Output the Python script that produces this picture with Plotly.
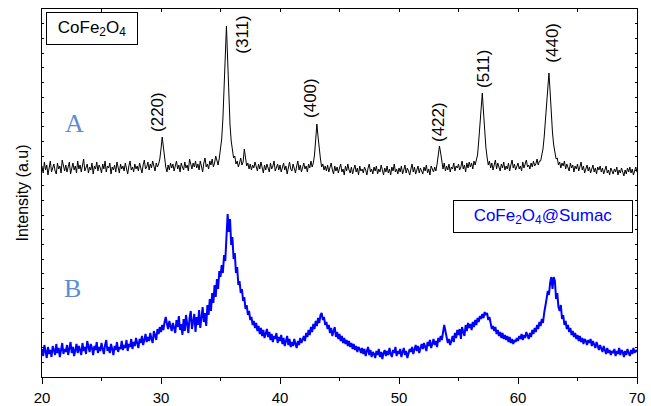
import numpy as np
import plotly.graph_objects as go

# 2-theta sampling grid (degrees), 0.1 deg step
two_theta = np.round(np.arange(200, 701, 1) / 10.0, 1)

# Trace A: CoFe2O4 (intensity, a.u.), one row per degree
int_a = [
    211, 204, 215, 207, 212, 202, 209, 216, 205, 210,  # 20
    213, 206, 203, 214, 208, 211, 204, 217, 209, 206,  # 21
    212, 205, 210, 215, 203, 209, 214, 207, 211, 204,  # 22
    216, 208, 212, 205, 210, 218, 206, 209, 213, 204,  # 23
    210, 207, 214, 203, 211, 208, 215, 206, 212, 209,  # 24
    204, 213, 208, 216, 205, 211, 209, 214, 203, 210,  # 25
    207, 212, 205, 215, 209, 204, 213, 208, 211, 206,  # 26
    214, 209, 203, 211, 216, 207, 210, 205, 213, 208,  # 27
    211, 206, 214, 209, 204, 212, 217, 208, 210, 215,  # 28
    207, 213, 209, 216, 211, 206, 214, 210, 213, 218,  # 29
    228, 240, 230, 218, 210, 205, 212, 207, 214, 209,  # 30
    213, 206, 211, 216, 208, 212, 205, 214, 210, 207,  # 31
    215, 209, 212, 206, 218, 211, 208, 214, 210, 216,  # 32
    209, 213, 207, 216, 211, 205, 214, 219, 210, 213,  # 33
    208, 216, 212, 218, 210, 214, 221, 215, 212, 219,  # 34
    228, 238, 258, 290, 330, 351, 318, 280, 252, 236,  # 35
    226, 219, 221, 213, 216, 210, 214, 219, 212, 215,  # 36
    228, 218, 211, 214, 208, 213, 207, 212, 209, 215,  # 37
    211, 206, 213, 208, 215, 209, 204, 212, 207, 213,  # 38
    210, 205, 214, 208, 211, 216, 206, 210, 213, 207,  # 39
    212, 205, 209, 214, 207, 211, 203, 210, 215, 208,  # 40
    206, 213, 209, 204, 211, 216, 207, 212, 205, 210,  # 41
    214, 208, 211, 205, 213, 209, 216, 210, 214, 222,  # 42
    238, 253, 240, 226, 218, 210, 213, 207, 211, 206,  # 43
    212, 205, 209, 214, 207, 203, 211, 206, 210, 204,  # 44
    209, 213, 205, 208, 202, 211, 206, 213, 207, 204,  # 45
    210, 203, 208, 212, 205, 209, 202, 211, 206, 208,  # 46
    204, 210, 207, 202, 209, 213, 205, 208, 203, 210,  # 47
    206, 211, 203, 208, 205, 212, 207, 202, 209, 205,  # 48
    211, 204, 208, 202, 210, 206, 213, 205, 208, 203,  # 49
    209, 205, 211, 203, 207, 212, 204, 209, 206, 202,  # 50
    208, 213, 205, 210, 203, 207, 211, 204, 209, 206,  # 51
    203, 210, 206, 212, 204, 208, 202, 211, 207, 205,  # 52
    210, 206, 213, 222, 231, 224, 215, 208, 214, 206,  # 53
    211, 207, 213, 205, 210, 208, 214, 206, 211, 209,  # 54
    213, 207, 210, 216, 208, 212, 205, 214, 209, 215,  # 55
    210, 214, 208, 216, 212, 218, 222, 236, 256, 275,  # 56
    284, 265, 245, 230, 220, 212, 216, 209, 214, 207,  # 57
    212, 217, 208, 214, 210, 206, 213, 209, 215, 207,  # 58
    211, 208, 214, 206, 212, 217, 209, 213, 207, 211,  # 59
    214, 208, 211, 206, 215, 209, 213, 217, 210, 212,  # 60
    208, 214, 210, 216, 211, 213, 218, 212, 216, 216,  # 61
    222, 228, 240, 258, 278, 296, 304, 285, 262, 244,  # 62
    232, 224, 218, 219, 212, 215, 209, 214, 211, 216,  # 63
    208, 213, 210, 206, 214, 209, 212, 205, 211, 208,  # 64
    213, 206, 210, 215, 207, 211, 204, 209, 212, 206,  # 65
    210, 204, 208, 212, 205, 209, 203, 210, 207, 211,  # 66
    205, 209, 203, 208, 211, 204, 207, 202, 209, 206,  # 67
    203, 208, 205, 210, 202, 207, 204, 209, 206, 201,  # 68
    207, 203, 209, 205, 210, 204, 208, 202, 206, 210,  # 69
    205,                                               # 70
]

# Trace B: CoFe2O4@Sumac
int_b = [
    28, 21, 32, 25, 19, 30, 23, 27, 20, 31,  # 20
    26, 22, 33, 24, 29, 20, 27, 34, 23, 28,  # 21
    25, 32, 22, 29, 35, 24, 30, 21, 28, 33,  # 22
    24, 31, 27, 22, 34, 26, 30, 23, 36, 28,  # 23
    25, 33, 29, 22, 31, 27, 35, 24, 30, 26,  # 24
    34, 28, 23, 32, 37, 26, 30, 24, 33, 28,  # 25
    22, 31, 27, 35, 25, 30, 28, 36, 27, 32,  # 26
    29, 37, 26, 33, 30, 38, 28, 35, 31, 39,  # 27
    33, 29, 38, 34, 41, 32, 37, 43, 35, 40,  # 28
    36, 44, 38, 34, 46, 41, 37, 48, 43, 50,  # 29
    45, 52, 47, 55, 60, 53, 48, 56, 51, 46,  # 30
    54, 49, 44, 57, 50, 61, 47, 53, 42, 58,  # 31
    46, 62, 50, 44, 59, 66, 48, 55, 63, 45,  # 32
    60, 52, 67, 49, 58, 70, 55, 64, 51, 72,  # 33
    62, 78, 66, 84, 74, 92, 80, 98, 88, 106,  # 34
    100, 112, 104, 122, 116, 140, 163, 145, 158, 132,  # 35
    140, 118, 124, 104, 110, 92, 96, 84, 88, 76,  # 36
    80, 68, 72, 62, 66, 57, 60, 52, 56, 49,  # 37
    54, 46, 51, 43, 49, 41, 47, 39, 44, 48,  # 38
    40, 45, 37, 43, 35, 41, 38, 44, 34, 40,  # 39
    36, 42, 33, 39, 31, 37, 41, 32, 38, 30,  # 40
    35, 31, 38, 33, 29, 36, 32, 39, 34, 37,  # 41
    41, 36, 44, 40, 47, 42, 50, 45, 53, 48,  # 42
    56, 51, 59, 54, 62, 64, 57, 60, 52, 55,  # 43
    48, 52, 44, 49, 41, 46, 50, 40, 45, 38,  # 44
    43, 36, 41, 34, 39, 33, 37, 31, 36, 30,  # 45
    34, 28, 33, 27, 31, 25, 30, 28, 24, 29,  # 46
    23, 28, 21, 26, 30, 22, 27, 20, 25, 23,  # 47
    19, 26, 22, 28, 20, 25, 18, 24, 27, 21,  # 48
    26, 22, 29, 23, 20, 27, 24, 30, 21, 26,  # 49
    23, 28, 20, 25, 29, 22, 26, 19, 24, 28,  # 50
    25, 30, 23, 28, 32, 26, 31, 24, 29, 33,  # 51
    28, 34, 30, 26, 35, 31, 37, 29, 33, 38,  # 52
    32, 36, 30, 39, 35, 41, 37, 45, 52, 46,  # 53
    40, 34, 38, 32, 36, 41, 35, 44, 39, 47,  # 54
    42, 48, 38, 50, 45, 41, 52, 46, 54, 49,  # 55
    53, 47, 55, 50, 57, 52, 59, 55, 61, 58,  # 56
    63, 59, 65, 62, 64, 57, 60, 52, 48, 51,  # 57
    46, 50, 43, 47, 41, 45, 39, 44, 38, 42,  # 58
    37, 41, 35, 40, 34, 38, 33, 37, 35, 39,  # 59
    36, 41, 38, 43, 37, 42, 39, 45, 41, 38,  # 60
    44, 40, 47, 43, 49, 45, 52, 48, 55, 51,  # 61
    58, 54, 64, 70, 78, 86, 82, 94, 100, 88,  # 62
    100, 96, 78, 84, 70, 66, 72, 58, 62, 52,  # 63
    56, 48, 52, 45, 49, 42, 46, 40, 44, 38,  # 64
    42, 36, 41, 35, 39, 33, 38, 36, 32, 37,  # 65
    34, 38, 31, 36, 33, 29, 35, 30, 27, 32,  # 66
    28, 25, 31, 26, 23, 29, 24, 27, 22, 26,  # 67
    24, 28, 21, 26, 23, 29, 22, 27, 25, 20,  # 68
    26, 22, 28, 24, 21, 27, 23, 29, 24, 27,  # 69
    25,                                      # 70
]

# Miller index labels (text, 2theta of label, label height)
hkl_labels = ["(220)", "(311)", "(400)", "(422)", "(511)", "(440)"]
hkl_x = [29.66, 36.78, 42.52, 53.28, 57.06, 62.83]
hkl_y = [265, 342, 279, 255, 308, 334]

x_tick_vals = [20, 30, 40, 50, 60, 70]
x_tick_text = ["20", "30", "40", "50", "60", "70"]

SANS = "Liberation Sans, Arial, sans-serif"
SERIF = "Liberation Serif, Times New Roman, serif"

fig = go.Figure()
fig.add_trace(go.Scatter(x=two_theta, y=int_a, mode="lines",
                         line=dict(color="black", width=1), showlegend=False))
fig.add_trace(go.Scatter(x=two_theta, y=int_b, mode="lines",
                         line=dict(color="#0000ff", width=2), showlegend=False))
# dummy trace so the top axis is drawn
fig.add_trace(go.Scatter(x=[None], y=[None], xaxis="x2", showlegend=False,
                         hoverinfo="skip"))

annotations = []
for t, xx, yy in zip(hkl_labels, hkl_x, hkl_y):
    annotations.append(dict(x=xx, y=yy, xref="x", yref="y", text=t,
                            textangle=-90, showarrow=False,
                            font=dict(family=SANS, size=17, color="black"),
                            xanchor="center", yanchor="middle"))

annotations.append(dict(x=22.77, y=254, xref="x", yref="y", text="A",
                        showarrow=False,
                        font=dict(family=SERIF, size=26, color="#5b8dd6")))
annotations.append(dict(x=22.6, y=89, xref="x", yref="y", text="B",
                        showarrow=False,
                        font=dict(family=SERIF, size=26, color="#5b8dd6")))
annotations.append(dict(x=0.084, y=0.948, xref="paper", yref="paper",
                        text="CoFe<sub>2</sub>O<sub>4</sub>", showarrow=False,
                        xanchor="center", yanchor="middle",
                        width=86, height=27, borderpad=2,
                        bordercolor="black", borderwidth=1, bgcolor="white",
                        font=dict(family=SANS, size=17, color="black")))
annotations.append(dict(x=0.842, y=0.4375, xref="paper", yref="paper",
                        text="CoFe<sub>2</sub>O<sub>4</sub>@Sumac",
                        showarrow=False, xanchor="center", yanchor="middle",
                        width=174, height=27, borderpad=2,
                        bordercolor="black", borderwidth=1, bgcolor="white",
                        font=dict(family=SANS, size=17, color="#0000ff")))

fig.update_layout(
    width=651, height=406,
    margin=dict(l=42, r=14, t=9, b=29, autoexpand=False),
    paper_bgcolor="white", plot_bgcolor="white",
    font=dict(family=SANS, size=15, color="black"),
    xaxis=dict(range=[20, 70], tickvals=x_tick_vals, ticktext=x_tick_text,
               ticks="outside", ticklen=6, tickwidth=1, tickcolor="black",
               minor=dict(dtick=5, tick0=0, ticks="outside", ticklen=3,
                          tickcolor="black"),
               showline=True, linecolor="black", linewidth=1.3,
               showgrid=False, zeroline=False,
               tickfont=dict(size=15), ticklabelstandoff=1),
    xaxis2=dict(range=[20, 70], overlaying="x", side="top",
                dtick=5, tick0=0, ticks="inside", ticklen=3,
                tickcolor="black", showticklabels=False,
                showline=True, linecolor="black", linewidth=1.3,
                showgrid=False, zeroline=False),
    yaxis=dict(range=[0, 368], tick0=0, dtick=14.72, ticks="inside",
               ticklen=2, tickcolor="black", showticklabels=False,
               mirror="ticks", showline=True, linecolor="black",
               linewidth=1.3, showgrid=False, zeroline=False,
               title=dict(text="Intensity (a.u)", standoff=8,
                          font=dict(size=16))),
    annotations=annotations,
)

fig.write_html("out.html",
               config={"displayModeBar": False},
               post_script="document.body.style.margin='0';"
                           "document.body.style.overflow='hidden';")
